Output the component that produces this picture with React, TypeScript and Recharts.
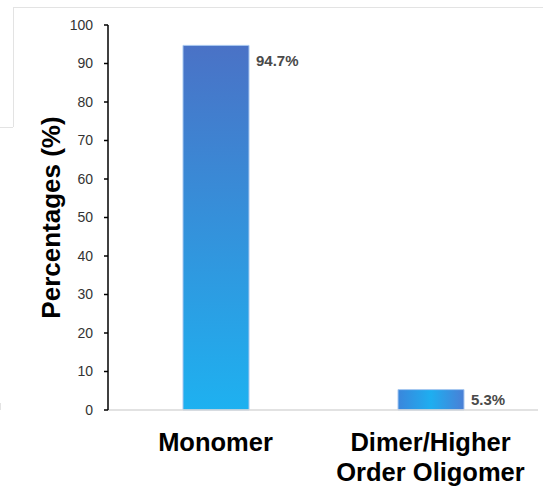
import React from 'react';
import { BarChart, Bar, XAxis, YAxis, Cell, LabelList } from 'recharts';

const categories = ['Monomer', 'Dimer/Higher\nOrder Oligomer'];
const percentages = [94.7, 5.3];
const yTicks = [0, 10, 20, 30, 40, 50, 60, 70, 80, 90, 100];

const data = categories.map((name, i) => ({ name, value: percentages[i] }));
const barFills = ['url(#gradMonomer)', 'url(#gradDimer)'];

const FONT = "'Liberation Sans', Arial, sans-serif";

const CategoryTick = (props: any) => {
  const { x, y, payload } = props;
  const lines = String(payload.value).split('\n');
  return (
    <text x={x} y={y} textAnchor="middle" fill="#000" fontSize={25.5} fontWeight="bold" fontFamily={FONT}>
      {lines.map((line, i) => (
        <tspan key={i} x={x} dy={i === 0 ? 41 : 30}>
          {line}
        </tspan>
      ))}
    </text>
  );
};

const ValueLabel = (props: any) => {
  const { x, y, width, height, value } = props;
  const offset = Math.min(height / 2, 15);
  return (
    <text
      x={x + width + 7}
      y={y + offset}
      dominantBaseline="central"
      fill="#4a4a4a"
      fontSize={15}
      fontWeight="bold"
      fontFamily={FONT}
    >
      {`${value}%`}
    </text>
  );
};

const frameLine = (style: React.CSSProperties) => (
  <div style={{ position: 'absolute', background: '#e3e3e3', ...style }} />
);

export default function App() {
  return (
    <div style={{ position: 'absolute', left: 0, top: 0, width: 543, height: 495, background: '#fff' }}>
      {frameLine({ left: 13, top: 7, width: 530, height: 1 })}
      {frameLine({ left: 13, top: 7, width: 1, height: 120 })}
      {frameLine({ left: 0, top: 127, width: 13, height: 1 })}
      {frameLine({ left: 0, top: 403, width: 1, height: 7 })}
      <BarChart
        width={543}
        height={495}
        data={data}
        margin={{ top: 25, right: 5, left: 0, bottom: 0 }}
        barCategoryGap={0}
      >
        <defs>
          <linearGradient id="gradMonomer" x1="0" y1="0" x2="0" y2="1">
            <stop offset="0%" stopColor="#4a72c6" />
            <stop offset="100%" stopColor="#1eb1f0" />
          </linearGradient>
          <linearGradient id="gradDimer" x1="0" y1="0" x2="1" y2="0">
            <stop offset="0%" stopColor="#3a86dc" />
            <stop offset="50%" stopColor="#1eaef0" />
            <stop offset="100%" stopColor="#4a7fd6" />
          </linearGradient>
        </defs>
        <XAxis
          dataKey="name"
          height={85}
          axisLine={{ stroke: '#d9d9d9', strokeWidth: 1.5 }}
          tickLine={false}
          tickSize={0}
          tickMargin={0}
          interval={0}
          tick={<CategoryTick />}
        />
        <YAxis
          width={108}
          domain={[0, 100]}
          ticks={yTicks}
          interval={0}
          axisLine={{ stroke: '#000', strokeWidth: 1.5 }}
          tickLine={{ stroke: '#000', strokeWidth: 1.5 }}
          tickSize={4}
          tickMargin={11}
          tick={{ fill: '#333', fontSize: 14, fontFamily: FONT }}
          label={{
            value: 'Percentages (%)',
            angle: -90,
            position: 'insideLeft',
            dx: 46,
            dy: 0,
            style: {
              textAnchor: 'middle',
              fill: '#000',
              fontSize: 26,
              fontWeight: 'bold',
              fontFamily: FONT,
            },
          }}
        />
        <Bar dataKey="value" barSize={66} isAnimationActive={false} stroke="#a8c8f0" strokeWidth={1}>
          {data.map((d, i) => (
            <Cell key={d.name} fill={barFills[i]} />
          ))}
          <LabelList dataKey="value" content={<ValueLabel />} />
        </Bar>
      </BarChart>
    </div>
  );
}
